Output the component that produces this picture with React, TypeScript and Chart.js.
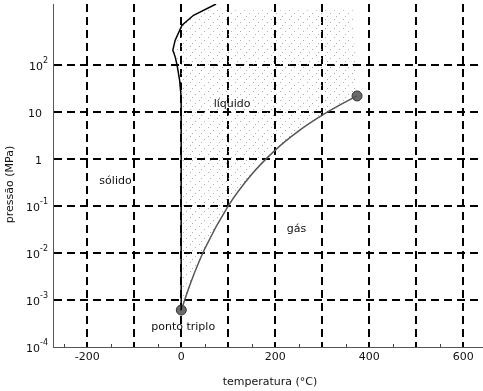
import React, { useEffect, useRef } from 'react';
import { Chart, registerables } from 'chart.js';

Chart.register(...registerables);

// Melting curve (solid/liquid boundary): temperature °C, pressure MPa
const meltT = [0.01, 0, -0.6, -3.6, -9, -13, -18, -13, 1.5, 26, 74];
const meltP = [0.000612, 1, 21, 48, 100, 150, 208, 340, 710, 1150, 2000];

// Vaporization curve (liquid/gas boundary)
const vaporT = [0.01, 20, 50, 100, 150, 200, 250, 300, 350, 374];
const vaporP = [0.000612, 0.00234, 0.01235, 0.1013, 0.476, 1.555, 3.976, 8.59, 16.53, 22.06];

// Triple point and critical point
const specialT = [0.01, 374];
const specialP = [0.000612, 22.06];

// Upper bound of the shaded liquid region
const liquidTopP = 1480;
const liquidTopT = [48, 365];

// Axis ticks
const yTicks = [1e-4, 1e-3, 1e-2, 1e-1, 1, 10, 100];
const yTickBase = ['10', '10', '10', '10', '1', '10', '10'];
const yTickExp = ['-4', '-3', '-2', '-1', '', '', '2'];
const xTicks = [-200, -100, 0, 100, 200, 300, 400, 500, 600];
const xTickLabels = ['-200', '', '0', '', '200', '', '400', '', '600'];
const xMinorTicks = [-250, -150, -50, 50, 150, 250, 350, 450, 550];

// Axis titles
const xTitle = 'temperatura (°C)';
const yTitle = 'pressão (MPa)';

// Region labels
const regionLabels = ['sólido', 'líquido', 'gás', 'ponto triplo'];
const labelT = [-140, 108, 245, 4];
const labelP = [0.34, 14.8, 0.032, 0.000267];

const FONT = "'DejaVu Sans', Verdana, sans-serif";

function makePattern(ctx: CanvasRenderingContext2D) {
  const c = document.createElement('canvas');
  c.width = 9;
  c.height = 9;
  const p = c.getContext('2d')!;
  p.fillStyle = 'rgba(160,160,160,0.85)';
  p.fillRect(1, 1, 1, 1);
  p.fillRect(6, 4, 1, 1);
  p.fillRect(3, 7, 1, 1);
  return ctx.createPattern(c, 'repeat');
}

function noPadding(s: any) {
  s.paddingTop = 0;
  s.paddingBottom = 0;
  s.paddingLeft = 0;
  s.paddingRight = 0;
}

export default function App() {
  const ref = useRef<HTMLCanvasElement | null>(null);

  useEffect(() => {
    const canvas = ref.current!;
    const ctx = canvas.getContext('2d')!;
    const pattern = makePattern(ctx);

    const melt = meltT.map((t, i) => ({ x: t, y: meltP[i] }));
    const vapor = vaporT.map((t, i) => ({ x: t, y: vaporP[i] }));
    const special = specialT.map((t, i) => ({ x: t, y: specialP[i] }));

    const liquidPoly = [
      ...melt.filter((p) => p.y < liquidTopP),
      { x: liquidTopT[0], y: liquidTopP },
      { x: liquidTopT[1], y: liquidTopP },
      ...vapor.slice().reverse(),
    ];

    const shadePlugin = {
      id: 'shade',
      beforeDatasetsDraw(chart: any) {
        const { ctx: c, scales, chartArea } = chart;
        c.save();
        c.beginPath();
        c.rect(chartArea.left, chartArea.top, chartArea.right - chartArea.left, chartArea.bottom - chartArea.top);
        c.clip();
        c.beginPath();
        liquidPoly.forEach((p, i) => {
          const x = scales.x.getPixelForValue(p.x);
          const y = scales.y.getPixelForValue(p.y);
          if (i === 0) c.moveTo(x, y);
          else c.lineTo(x, y);
        });
        c.closePath();
        c.fillStyle = pattern || '#eee';
        c.fill();
        c.restore();
      },
    };

    const labelPlugin = {
      id: 'labels',
      afterDatasetsDraw(chart: any) {
        const { ctx: c, scales, chartArea } = chart;
        c.save();
        c.font = `11px ${FONT}`;
        c.fillStyle = '#111';
        c.textAlign = 'center';
        c.textBaseline = 'middle';
        regionLabels.forEach((txt, i) => {
          c.fillText(txt, scales.x.getPixelForValue(labelT[i]), scales.y.getPixelForValue(labelP[i]));
        });
        // minor ticks on x axis
        c.strokeStyle = '#444';
        c.lineWidth = 1;
        xMinorTicks.forEach((v) => {
          const x = Math.round(scales.x.getPixelForValue(v)) + 0.5;
          c.beginPath();
          c.moveTo(x, chartArea.bottom);
          c.lineTo(x, chartArea.bottom - 3);
          c.stroke();
        });
        c.restore();
      },
      afterDraw(chart: any) {
        const { ctx: c, scales, chartArea } = chart;
        c.save();
        c.fillStyle = '#111';
        c.textBaseline = 'middle';
        // y tick labels with superscript exponents
        const right = chartArea.left - 5;
        yTicks.forEach((v, i) => {
          const y = scales.y.getPixelForValue(v) + 2;
          const exp = yTickExp[i];
          if (exp) {
            c.font = `8px ${FONT}`;
            c.textAlign = 'right';
            const w = c.measureText(exp).width;
            c.fillText(exp, right, y - 6);
            c.font = `11px ${FONT}`;
            c.fillText(yTickBase[i], right - w, y);
          } else {
            c.font = `11px ${FONT}`;
            c.textAlign = 'right';
            c.fillText(yTickBase[i], right - 6, y);
          }
        });
        // axis titles
        c.font = `11px ${FONT}`;
        c.textAlign = 'center';
        c.fillText(xTitle, (chartArea.left + chartArea.right) / 2 + 2, 382);
        c.translate(10, (chartArea.top + chartArea.bottom) / 2 + 9);
        c.rotate(-Math.PI / 2);
        c.fillText(yTitle, 0, 0);
        c.restore();
      },
    };

    const chart = new Chart(canvas, {
      type: 'scatter',
      data: {
        datasets: [
          {
            data: melt,
            showLine: true,
            borderColor: '#000',
            borderWidth: 1.5,
            pointRadius: 0,
            tension: 0,
          },
          {
            data: vapor,
            showLine: true,
            borderColor: '#555',
            borderWidth: 1.5,
            pointRadius: 0,
            cubicInterpolationMode: 'monotone',
          },
          {
            data: special,
            showLine: false,
            pointRadius: 5,
            pointBackgroundColor: '#6a6a6a',
            pointBorderColor: '#333',
            pointBorderWidth: 1,
          },
        ],
      },
      options: {
        animation: false,
        responsive: false,
        layout: { autoPadding: false, padding: { top: 4, right: 0, left: 0, bottom: 0 } },
        plugins: {
          legend: { display: false },
          tooltip: { enabled: false },
        },
        scales: {
          x: {
            type: 'linear',
            min: -273,
            max: 642,
            afterBuildTicks: (s: any) => {
              s.ticks = xTicks.map((v) => ({ value: v }));
            },
            afterFit: (s: any) => {
              s.height = 44;
              noPadding(s);
            },
            ticks: {
              autoSkip: false,
              maxRotation: 0,
              padding: 4,
              color: '#111',
              font: { family: FONT, size: 11 },
              callback: (v: any) => {
                const i = xTicks.indexOf(Number(v));
                return i >= 0 ? xTickLabels[i] : '';
              },
            },
            grid: {
              color: '#000',
              lineWidth: 2,
              drawTicks: false,
            },
            border: { display: true, color: '#555', width: 1, dash: [8, 5] },
            title: { display: false },
          },
          y: {
            type: 'logarithmic',
            min: 1e-4,
            max: 2000,
            afterBuildTicks: (s: any) => {
              s.ticks = yTicks.map((v) => ({ value: v }));
            },
            afterFit: (s: any) => {
              s.width = 53;
              noPadding(s);
            },
            ticks: {
              autoSkip: false,
              callback: () => '',
            },
            grid: {
              color: (c: any) => (c.tick && c.tick.value <= 1e-4 * 1.0001 ? 'rgba(0,0,0,0)' : '#000'),
              lineWidth: 2,
              drawTicks: false,
            },
            border: { display: true, color: '#555', width: 1, dash: [8, 5] },
            title: { display: false },
          },
        },
      },
      plugins: [shadePlugin, labelPlugin],
    } as any);

    return () => chart.destroy();
  }, []);

  return (
    <div style={{ position: 'fixed', left: 0, top: 0, width: 483, height: 391, background: '#fff' }}>
      <canvas ref={ref} width={483} height={391} style={{ display: 'block' }} />
    </div>
  );
}
